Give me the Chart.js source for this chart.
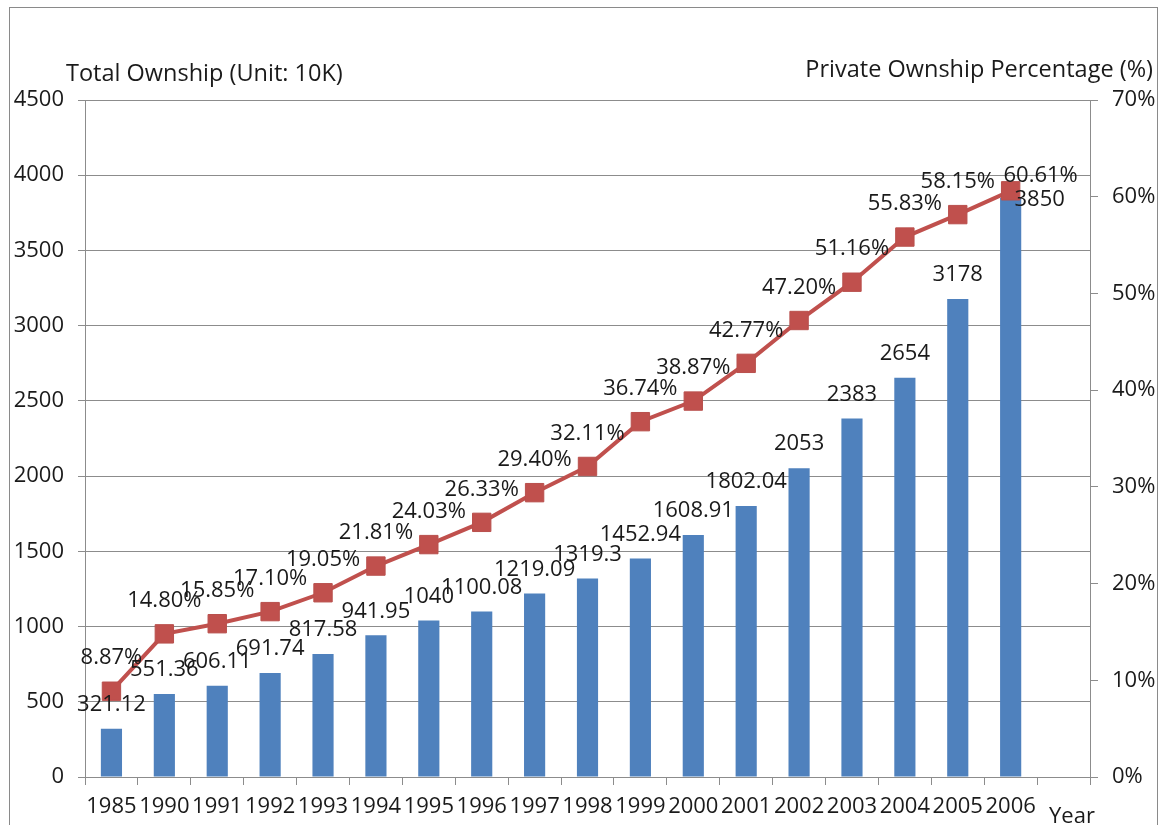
<!DOCTYPE html>
<html>
<head>
<meta charset="utf-8">
<script src="https://cdn.jsdelivr.net/npm/chart.js@4"></script>
<style>
  html, body { margin: 0; padding: 0; background: #fff; }
  #wrap { width: 1161px; height: 825px; }
</style>
</head>
<body>
<div id="wrap"><canvas id="chart" width="1161" height="825"></canvas></div>
<script>
// data
const years = ['1985', '1990', '1991', '1992', '1993', '1994', '1995', '1996', '1997', '1998',
    '1999', '2000', '2001', '2002', '2003', '2004', '2005', '2006', ''];
const totalOwnship = [321.12, 551.36, 606.11, 691.74, 817.58, 941.95, 1040, 1100.08, 1219.09, 1319.3,
    1452.94, 1608.91, 1802.04, 2053, 2383, 2654, 3178, 3850, null];
const privatePct = [8.87, 14.80, 15.85, 17.10, 19.05, 21.81, 24.03, 26.33, 29.40, 32.11,
    36.74, 38.87, 42.77, 47.20, 51.16, 55.83, 58.15, 60.61, null];
const leftTicks = { min: 0, max: 4500, step: 500 };
const rightTicks = { min: 0, max: 70, step: 10 };

const FONT = '"Open Sans", sans-serif';
const TXT = '#1a1a1a';
const GRID = '#8c8c8c';

// labels, titles and outer frame
const decorPlugin = {
    id: 'decor',
    afterDatasetsDraw(chart) {
        const ctx = chart.ctx;
        ctx.save();
        ctx.font = '22px ' + FONT;
        ctx.fillStyle = TXT;
        ctx.textAlign = 'center';
        ctx.textBaseline = 'middle';
        // bar labels
        const bars = chart.getDatasetMeta(1).data;
        bars.forEach((el, i) => {
            const v = totalOwnship[i];
            if (v == null) return;
            let x = el.x, y = el.y - 24;
            if (i === totalOwnship.length - 2) { x += 29; y = el.y + 2; }
            ctx.fillText(String(v), x, y);
        });
        // line labels
        const pts = chart.getDatasetMeta(0).data;
        pts.forEach((el, i) => {
            const v = privatePct[i];
            if (v == null) return;
            let x = el.x, y = el.y - 33;
            if (i === privatePct.length - 2) { x += 30; y = el.y - 15; }
            ctx.fillText(v.toFixed(2) + '%', x, y);
        });
        // axis titles
        ctx.font = '23.5px ' + FONT;
        ctx.textAlign = 'left';
        ctx.fillText('Total Ownship (Unit: 10K)', 66, 74);
        ctx.textAlign = 'right';
        ctx.fillText('Private Ownship Percentage (%)', 1153, 70);
        ctx.textAlign = 'center';
        ctx.font = '22px ' + FONT;
        ctx.fillText('Year', 1072, 817);
        // frame
        ctx.strokeStyle = '#8a8a8a';
        ctx.lineWidth = 1;
        ctx.strokeRect(9.5, 7.5, 1148, 900);
        ctx.restore();
    }
};

const ctx = document.getElementById('chart').getContext('2d');
new Chart(ctx, {
    data: {
        labels: years,
        datasets: [
            {
                type: 'line',
                label: 'Private Ownship Percentage',
                data: privatePct,
                yAxisID: 'y2',
                order: 1,
                borderColor: '#C0504D',
                backgroundColor: '#C0504D',
                borderWidth: 4,
                pointStyle: 'rect',
                pointRadius: 13,
                pointBackgroundColor: '#C0504D',
                pointBorderColor: '#B9504D',
                pointBorderWidth: 1,
                tension: 0
            },
            {
                type: 'bar',
                label: 'Total Ownship',
                data: totalOwnship,
                yAxisID: 'y',
                order: 2,
                backgroundColor: '#4F81BD',
                borderWidth: 0,
                barPercentage: 0.4,
                categoryPercentage: 1
            }
        ]
    },
    options: {
        responsive: false,
        animation: false,
        layout: { padding: { top: 100, left: 0, right: 0, bottom: 0 } },
        plugins: {
            legend: { display: false },
            tooltip: { enabled: false }
        },
        scales: {
            x: {
                offset: true,
                afterFit: s => { s.height = 48; },
                grid: { offset: true, drawOnChartArea: false, drawTicks: true, tickLength: 8, color: GRID },
                border: { display: true, color: GRID },
                ticks: { color: TXT, font: { family: FONT, size: 22 }, padding: 9, maxRotation: 0, autoSkip: false }
            },
            y: {
                position: 'left',
                min: leftTicks.min,
                max: leftTicks.max,
                afterFit: s => { s.width = 85; },
                grid: { color: GRID, tickLength: 7 },
                border: { display: true, color: GRID },
                ticks: { stepSize: leftTicks.step, color: TXT, font: { family: FONT, size: 22 }, padding: 14,
                    callback: v => String(v) }
            },
            y2: {
                position: 'right',
                min: rightTicks.min,
                max: rightTicks.max,
                afterFit: s => { s.width = 71; },
                grid: { drawOnChartArea: false, color: GRID, tickLength: 8 },
                border: { display: true, color: GRID },
                ticks: { stepSize: rightTicks.step, color: TXT, font: { family: FONT, size: 22 }, padding: 14,
                    callback: v => v + '%' }
            }
        }
    },
    plugins: [decorPlugin]
});
</script>
</body>
</html>
